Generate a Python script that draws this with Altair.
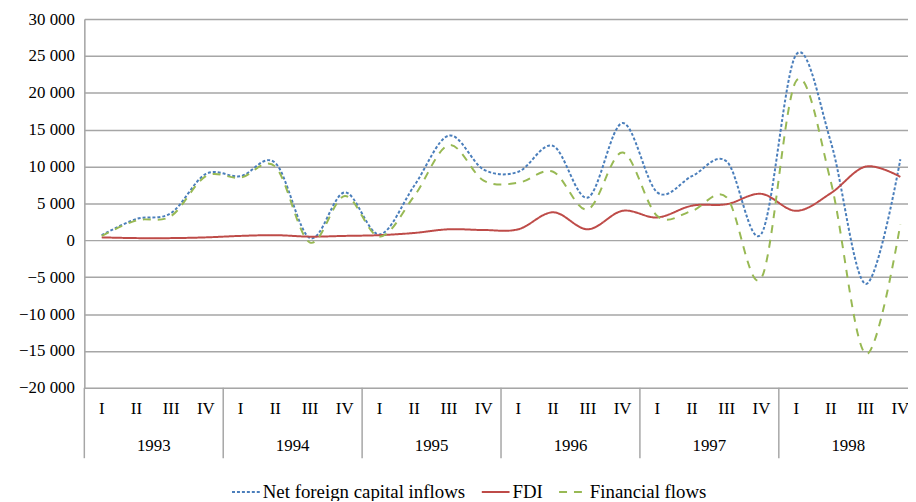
import altair as alt
import pandas as pd

years = ["1993", "1994", "1995", "1996", "1997", "1998"]
quarters = ["I", "II", "III", "IV"]
series_names = ["Net foreign capital inflows", "FDI", "Financial flows"]

net_inflows = [700, 2900, 3700, 9000, 8700, 10500, 300, 6500,
               800, 7400, 14200, 9600, 9300, 12800, 5800, 15900,
               6500, 8700, 10700, 900, 25200, 13300, -5900, 11000]
fdi = [400, 300, 300, 400, 600, 700, 500, 600,
       700, 1000, 1500, 1400, 1500, 3800, 1500, 4000,
       3100, 4700, 4900, 6300, 4000, 6400, 10000, 8600]
financial = [600, 2700, 3300, 8700, 8500, 10000, -300, 6000,
             500, 6000, 12900, 8100, 7800, 9300, 4200, 11900,
             3300, 4000, 5800, -5100, 21600, 7900, -15400, 2200]

colors = ["#4a7ebb", "#be4b48", "#98b954"]
dashes = [[3, 2], [1, 0], [8, 7]]

rows = []
for name, vals in zip(series_names, [net_inflows, fdi, financial]):
    for i, v in enumerate(vals):
        rows.append({"idx": i, "value": v, "series": name})
df = pd.DataFrame(rows)

year_df = pd.DataFrame({"year": years, "mid": [1.5 + 4 * k for k in range(len(years))]})
sep_df = pd.DataFrame({"sep": [-0.5 + 4 * k for k in range(len(years))]})
q_df = pd.DataFrame({"idx": list(range(24)), "q": [quarters[i % 4] for i in range(24)]})

FONT = "Liberation Serif, Times New Roman, DejaVu Serif, serif"
GRID = "#a6a6a6"
W, H = 831, 372

xscale = alt.Scale(domain=[-0.5, 23.22], nice=False, zero=False)

legend_spec = dict(title=None, orient="none", legendX=148, legendY=462,
                   direction="horizontal", symbolType="stroke",
                   symbolSize=784, symbolStrokeWidth=2,
                   labelFont=FONT, labelFontSize=19, labelColor="#000",
                   labelLimit=0, labelOffset=2, columnPadding=12)

lines = alt.Chart(df).mark_line(
    interpolate="cardinal", tension=0, strokeWidth=2, clip=True
).encode(
    x=alt.X("idx:Q", scale=xscale,
            axis=alt.Axis(values=list(range(24)), title=None, grid=False, ticks=False,
                          labels=False, domain=True, domainColor=GRID, domainWidth=1.5)),
    y=alt.Y("value:Q",
            scale=alt.Scale(domain=[-20000, 30000], nice=False),
            axis=alt.Axis(values=list(range(-20000, 30001, 5000)), title=None,
                          ticks=False, grid=True, gridColor=GRID, gridWidth=1.5,
                          domain=True, domainColor=GRID, domainWidth=1.5,
                          labelExpr="replace(format(datum.value, ','), ',', ' ')",
                          labelFont=FONT, labelFontSize=17, labelColor="#000",
                          labelPadding=10)),
    color=alt.Color("series:N", sort=series_names,
                    scale=alt.Scale(domain=series_names, range=colors),
                    legend=alt.Legend(**legend_spec)),
    strokeDash=alt.StrokeDash("series:N", sort=series_names,
                              scale=alt.Scale(domain=series_names, range=dashes),
                              legend=alt.Legend(**legend_spec)),
)

q_text = alt.Chart(q_df).mark_text(
    font=FONT, fontSize=17, color="#000", baseline="middle", align="center"
).encode(
    x=alt.X("idx:Q", scale=xscale, axis=None),
    y=alt.value(H + 21),
    text="q:N",
)

seps = alt.Chart(sep_df).mark_rule(color=GRID, strokeWidth=1.5).encode(
    x=alt.X("sep:Q", scale=xscale, axis=None),
    y=alt.value(H),
    y2=alt.value(H + 71),
)

year_text = alt.Chart(year_df).mark_text(
    font=FONT, fontSize=17, color="#000", baseline="middle", align="center"
).encode(
    x=alt.X("mid:Q", scale=xscale, axis=None),
    y=alt.value(H + 59),
    text="year:N",
)

chart = alt.layer(lines, seps, q_text, year_text).properties(
    width=W, height=H,
    padding={"left": 77, "top": 9, "right": 0, "bottom": 112},
    autosize=alt.AutoSizeParams(type="none"),
).configure_view(stroke=None).configure(background="white")

chart.save("out.html", embed_options={"renderer": "svg", "actions": False})
